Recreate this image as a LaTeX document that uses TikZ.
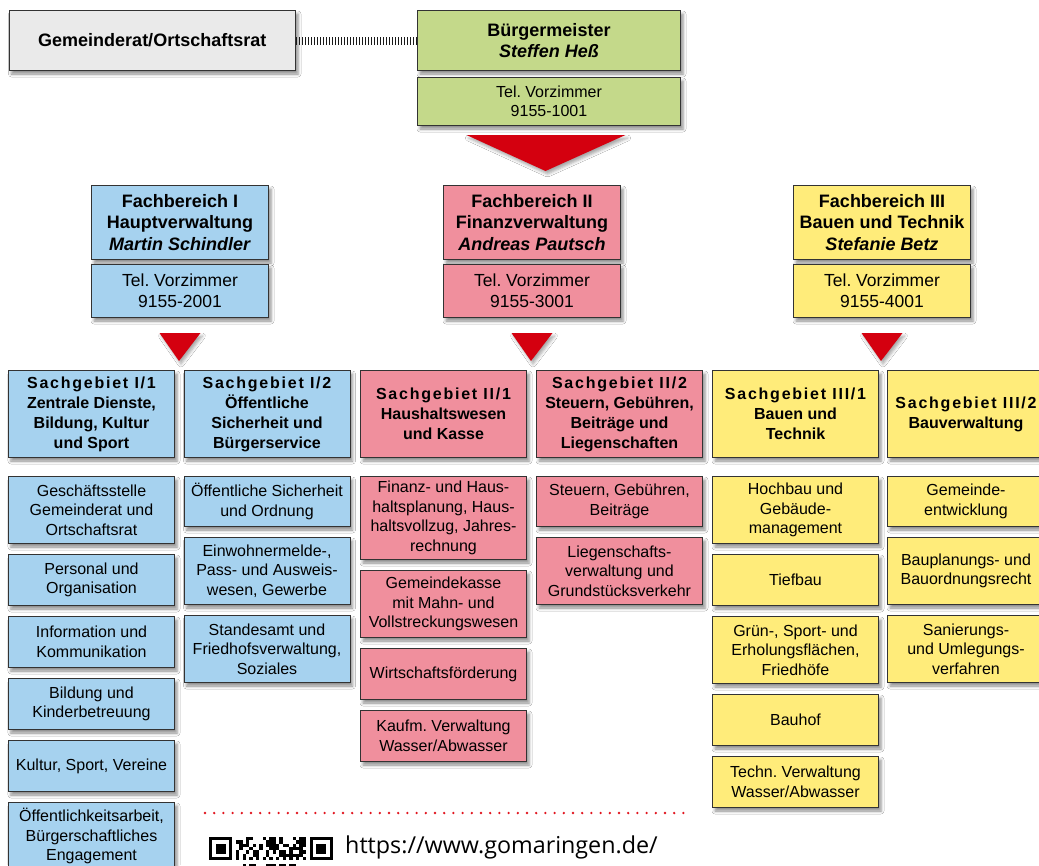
\documentclass[tikz,border=0pt]{standalone}
\usepackage{fontspec}
\setmainfont{Liberation Sans}
\newfontfamily\spacedfont[LetterSpace=11]{Liberation Sans}
\newfontfamily\urlfont{Open Sans}
\usetikzlibrary{positioning,calc,shadows.blur}
\definecolor{gmgray}{RGB}{234,234,234}
\definecolor{gmgreen}{RGB}{196,217,138}
\definecolor{gmblue}{RGB}{166,210,239}
\definecolor{gmpink}{RGB}{240,143,157}
\definecolor{gmyellow}{RGB}{255,236,122}
\definecolor{gmred}{RGB}{212,0,15}
\definecolor{gmdot}{RGB}{225,20,30}
\def\qm{3.35}
\frenchspacing
\begin{document}
\begin{tikzpicture}[x=1pt,y=-1pt,node distance=10pt,
  box/.style={draw=black!80,line width=1pt,align=center,inner sep=2pt,minimum width=166pt,minimum height=51pt,
    blur shadow={shadow xshift=2.5pt,shadow yshift=-3.5pt,shadow blur radius=3pt,shadow opacity=45},
    font=\fontsize{16}{19.5}\selectfont},
  one/.style={minimum height=50pt},
  three/.style={minimum height=67pt},
  four/.style={minimum height=83pt},
  narrow/.style={minimum width=157pt},
  head/.style={box,minimum height=87pt,font=\fontsize{16}{20}\selectfont\bfseries},
  fb/.style={box,minimum width=177pt,minimum height=74pt,font=\fontsize{18}{21.5}\selectfont\bfseries},
  fbtel/.style={box,minimum width=177pt,minimum height=53pt,font=\fontsize{17.5}{21}\selectfont},
  colI/.style={fill=gmblue},
  colII/.style={fill=gmpink},
  colIII/.style={fill=gmyellow},
  tri/.style={fill=gmred,blur shadow={shadow xshift=2pt,shadow yshift=-3pt,shadow blur radius=3pt,shadow opacity=35}},
  tick/.style={draw=black!90,line width=8pt,dash pattern=on 1.4pt off 1.6pt},
  dotline/.style={draw=gmdot,line width=2.6pt,line cap=round,dash pattern=on 0pt off 9.2pt}]
\useasboundingbox (0,0) rectangle (1039,865);
\fill[white] (0,0) rectangle (1039,865);
\clip (0,0) rectangle (1039,865);

% top row
\node[box,fill=gmgray,minimum width=286.5pt,minimum height=60pt,font=\fontsize{18}{21}\selectfont\bfseries,anchor=north west] (GR) at (8.5,10) {Gemeinderat/Ortschaftsrat};
\node[box,fill=gmgreen,minimum width=263pt,minimum height=60pt,font=\fontsize{18}{21.5}\selectfont\bfseries,anchor=north west] (BM) at (417,10) {Bürgermeister\\\textit{Steffen Heß}};
\node[box,fill=gmgreen,minimum width=263pt,minimum height=48pt,font=\fontsize{16}{19}\selectfont] (BMtel) [below=6pt of BM] {Tel. Vorzimmer\\9155-1001};
\draw[tick] (GR) -- (BM);
\fill[tri] ($(BMtel.south)+(-82.5,9)$) -- ++(159,0) -- ($(BMtel.south)+(-3.5,45)$) -- cycle;

% Fachbereiche
\node[fb,colI,anchor=north west] (FB1) at (91,185) {Fachbereich I\\Hauptverwaltung\\\textit{Martin Schindler}};
\node[fb,colII,anchor=north west] (FB2) at (443,185) {Fachbereich II\\Finanzverwaltung\\\textit{Andreas Pautsch}};
\node[fb,colIII,anchor=north west] (FB3) at (793,185) {Fachbereich III\\Bauen und Technik\\\textit{Stefanie Betz}};
\node[fbtel,colI] (FB1tel) [below=4pt of FB1] {Tel. Vorzimmer\\9155-2001};
\node[fbtel,colII] (FB2tel) [below=4pt of FB2] {Tel. Vorzimmer\\9155-3001};
\node[fbtel,colIII] (FB3tel) [below=4pt of FB3] {Tel. Vorzimmer\\9155-4001};
\foreach \t in {FB1tel,FB2tel,FB3tel}
  \fill[tri] ($(\t.south)+(-20.5,15)$) -- ++(41,0) -- ($(\t.south)+(-1,43)$) -- cycle;

% Sachgebiete
\node[head,colI,anchor=north west] (SG11) at (8,370) {{\spacedfont Sachgebiet I/1}\\Zentrale Dienste,\\Bildung, Kultur\\und Sport};
\node[head,colI,anchor=north west] (SG12) at (183.5,370) {{\spacedfont Sachgebiet I/2}\\Öffentliche\\Sicherheit und\\Bürgerservice};
\node[head,colII,anchor=north west] (SG21) at (360,370) {{\spacedfont Sachgebiet II/1}\\Haushaltswesen\\und Kasse};
\node[head,colII,anchor=north west] (SG22) at (536,370) {{\spacedfont Sachgebiet II/2}\\Steuern, Gebühren,\\Beiträge und\\Liegenschaften};
\node[head,colIII,anchor=north west] (SG31) at (712,370) {{\spacedfont Sachgebiet III/1}\\Bauen und\\Technik};
\node[head,colIII,narrow,anchor=north west] (SG32) at (887,370) {{\spacedfont Sachgebiet III/2}\\Bauverwaltung};

% Sachgebiet I/1
\node[box,colI,three] (A1) [below=18pt of SG11] {Geschäftsstelle\\Gemeinderat und\\Ortschaftsrat};
\node[box,colI] (A2) [below=of A1] {Personal und\\Organisation};
\node[box,colI] (A3) [below=of A2] {Information und\\Kommunikation};
\node[box,colI] (A4) [below=of A3] {Bildung und\\Kinderbetreuung};
\node[box,colI] (A5) [below=of A4] {Kultur, Sport, Vereine};
\node[box,colI,three] (A6) [below=of A5] {Öffentlichkeitsarbeit,\\Bürgerschaftliches\\Engagement};

% Sachgebiet I/2
\node[box,colI,one] (B1) [below=18pt of SG12] {Öffentliche Sicherheit\\und Ordnung};
\node[box,colI,three] (B2) [below=of B1] {Einwohnermelde-,\\Pass- und Ausweis-\\wesen, Gewerbe};
\node[box,colI,three] (B3) [below=of B2] {Standesamt und\\Friedhofsverwaltung,\\Soziales};

% Sachgebiet II/1
\node[box,colII,four] (C1) [below=18pt of SG21] {Finanz- und Haus-\\haltsplanung, Haus-\\haltsvollzug, Jahres-\\rechnung};
\node[box,colII,three] (C2) [below=of C1] {Gemeindekasse\\mit Mahn- und\\Vollstreckungswesen};
\node[box,colII] (C3) [below=of C2] {Wirtschaftsförderung};
\node[box,colII] (C4) [below=of C3] {Kaufm. Verwaltung\\Wasser/Abwasser};

% Sachgebiet II/2
\node[box,colII,one] (D1) [below=18pt of SG22] {Steuern, Gebühren,\\Beiträge};
\node[box,colII,three] (D2) [below=of D1] {Liegenschafts-\\verwaltung und\\Grundstücksverkehr};

% Sachgebiet III/1
\node[box,colIII,three] (E1) [below=18pt of SG31] {Hochbau und\\Gebäude-\\management};
\node[box,colIII] (E2) [below=of E1] {Tiefbau};
\node[box,colIII,three] (E3) [below=of E2] {Grün-, Sport- und\\Erholungsflächen,\\Friedhöfe};
\node[box,colIII] (E4) [below=of E3] {Bauhof};
\node[box,colIII] (E5) [below=of E4] {Techn. Verwaltung\\Wasser/Abwasser};

% Sachgebiet III/2
\node[box,colIII,narrow,one] (F1) [below=18pt of SG32] {Gemeinde-\\entwicklung};
\node[box,colIII,narrow,three] (F2) [below=of F1] {Bauplanungs- und\\Bauordnungsrecht};
\node[box,colIII,narrow,three] (F3) [below=of F2] {Sanierungs-\\und Umlegungs-\\verfahren};

% footer
\draw[dotline] (205,813) -- (684,813);
\node[anchor=base west,inner sep=0pt,font=\urlfont\fontsize{23.3}{23}\selectfont] (url) at (345,853) {https://www.gomaringen.de/};
\foreach \fx in {0,30} {
  \fill (209+\fx*\qm,837) rectangle ++(7*\qm,7*\qm);
  \fill[white] (209+\fx*\qm+\qm,837+\qm) rectangle ++(5*\qm,5*\qm);
  \fill (209+\fx*\qm+2*\qm,837+2*\qm) rectangle ++(3*\qm,3*\qm);
}
\foreach \c in {8,10,...,28} \fill (209+\c*\qm,837+6*\qm) rectangle ++(\qm,\qm);
\pgfmathsetseed{21}
\foreach \c in {8,...,28} \foreach \r in {0,...,5,8} {
  \pgfmathtruncatemacro\on{rnd<0.5}
  \ifnum\on=1 \fill (209+\c*\qm,837+\r*\qm) rectangle ++(\qm,\qm); \fi
}
\end{tikzpicture}
\end{document}
